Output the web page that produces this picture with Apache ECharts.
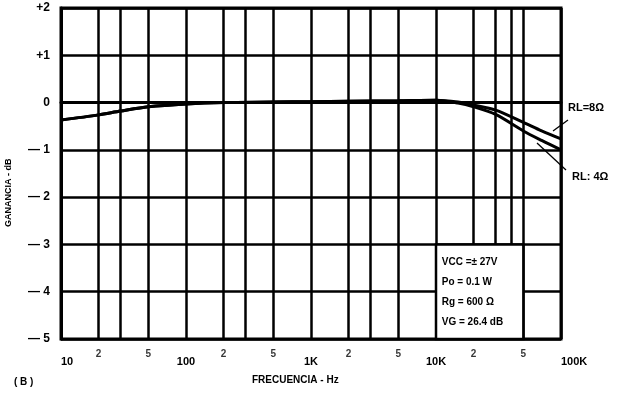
<!DOCTYPE html>
<html><head><meta charset="utf-8">
<script src="https://cdn.jsdelivr.net/npm/echarts@6/dist/echarts.min.js"></script>
<style>html,body{margin:0;padding:0;background:#fff}#c{width:625px;height:396px}</style>
</head><body><div id="c"></div>
<script>
// ---- data ----
const freqs   = [10, 20, 30, 50, 100, 200, 500, 1000, 2000, 5000, 10000, 15000, 20000, 30000, 50000, 70000, 100000];
const gainRL8 = [-0.37, -0.26, -0.18, -0.09, -0.03, 0.0, 0.01, 0.02, 0.03, 0.04, 0.05, 0.01, -0.05, -0.16, -0.42, -0.60, -0.77];
const gainRL4 = [-0.37, -0.26, -0.18, -0.09, -0.03, 0.0, 0.01, 0.02, 0.03, 0.04, 0.05, -0.01, -0.09, -0.25, -0.60, -0.80, -1.00];
const yTicks = [-5, -4, -3, -2, -1, 0, 1, 2];
const yTickLabels = ['— 5', '— 4', '— 3', '— 2', '— 1', '0', '+1', '+2'];
const decadeTicks = [10, 100, 1000, 10000, 100000];
const decadeLabels = ['10', '100', '1K', '10K', '100K'];
const minorGridFreqs = [20, 30, 50, 200, 300, 500, 2000, 3000, 5000, 20000, 30000, 40000, 50000];
const minorLabelFreqs = [20, 50, 200, 500, 2000, 5000, 20000, 50000];
const minorLabelText = ['2', '5', '2', '5', '2', '5', '2', '5'];
const boxFreqRange = [10000, 50000];
const boxGainRange = [-3, -5];
const boxLines = ['VCC =± 27V', 'Po = 0.1 W', 'Rg = 600 Ω', 'VG = 26.4 dB'];
const seriesNames = ['RL=8Ω', 'RL: 4Ω'];

const FONT = 'Liberation Sans, Arial, sans-serif';
const chart = echarts.init(document.getElementById('c'), null, {renderer: 'canvas'});

function labelFor(v, ticks, labels) {
  for (let i = 0; i < ticks.length; i++) {
    if (Math.abs(v - ticks[i]) < 1e-6 * Math.max(1, Math.abs(ticks[i]))) return labels[i];
  }
  return '';
}

chart.setOption({
  animation: false,
  backgroundColor: '#fff',
  grid: {left: 61, right: 64, top: 8, bottom: 57, show: true, borderColor: '#000', borderWidth: 3, backgroundColor: 'transparent'},
  xAxis: {
    type: 'log', logBase: 10, min: 10, max: 100000,
    axisLine: {show: true, lineStyle: {color: '#000', width: 3}},
    axisTick: {show: false},
    splitLine: {show: true, lineStyle: {color: '#000', width: 2.5}},
    axisLabel: {
      margin: 17, color: '#000', fontFamily: FONT, fontWeight: 'bold', fontSize: 11,
      alignMinLabel: 'left', alignMaxLabel: 'left',
      formatter: v => labelFor(Math.round(v), decadeTicks, decadeLabels)
    }
  },
  yAxis: {
    type: 'value', min: -5, max: 2, interval: 1,
    axisLine: {show: true, lineStyle: {color: '#000', width: 3}},
    axisTick: {show: false},
    splitLine: {show: true, lineStyle: {color: '#000', width: 2.5}},
    axisLabel: {
      margin: 11, color: '#000', fontFamily: FONT, fontWeight: 'bold', fontSize: 12,
      formatter: v => labelFor(v, yTicks, yTickLabels)
    }
  },
  series: [
    {
      name: 'grid', type: 'line', data: [], z: 1, silent: true,
      markLine: {
        z: 1, silent: true, symbol: ['none', 'none'], label: {show: false},
        lineStyle: {color: '#000', width: 2.5, type: 'solid'},
        data: minorGridFreqs.map(f => ({xAxis: f}))
      }
    },
    {
      name: seriesNames[0], type: 'line', z: 3, smooth: 0.3, showSymbol: false,
      lineStyle: {color: '#000', width: 3},
      data: freqs.map((f, i) => [f, gainRL8[i]])
    },
    {
      name: seriesNames[1], type: 'line', z: 3, smooth: 0.3, showSymbol: false,
      lineStyle: {color: '#000', width: 3},
      data: freqs.map((f, i) => [f, gainRL4[i]])
    },
    {
      name: 'box', type: 'line', data: [], z: 10, silent: true,
      markArea: {
        z: 10, silent: true,
        itemStyle: {color: '#fff', borderColor: '#000', borderWidth: 2.5},
        label: {
          show: true, position: 'insideTopLeft', distance: 0,
          padding: [9, 0, 0, 7],
          color: '#000', fontFamily: FONT, fontWeight: 'bold', fontSize: 10, lineHeight: 20,
          formatter: boxLines.join('\n')
        },
        data: [[{xAxis: boxFreqRange[0], yAxis: boxGainRange[0]}, {xAxis: boxFreqRange[1], yAxis: boxGainRange[1]}]]
      }
    },
    {
      name: 'minorLabels', type: 'scatter', z: 4, silent: true,
      symbolSize: 2, itemStyle: {color: 'rgba(0,0,0,0)'},
      label: {
        show: true, position: 'bottom', distance: 9, color: '#000',
        fontFamily: FONT, fontWeight: 'bold', fontSize: 10,
        formatter: p => minorLabelText[p.dataIndex]
      },
      data: minorLabelFreqs.map(f => [f, -5])
    }
  ],
  graphic: [
    {type: 'text', x: 4, y: 227, rotation: Math.PI / 2, style: {text: 'GANANCIA - dB', fill: '#000', font: 'bold 9px ' + FONT}},
    {type: 'text', left: 252, top: 375, style: {text: 'FRECUENCIA - Hz', fill: '#000', font: 'bold 10px ' + FONT}},
    {type: 'text', left: 14, top: 377, style: {text: '( B )', fill: '#000', font: 'bold 10px ' + FONT}},
    {type: 'text', left: 568, top: 102, style: {text: seriesNames[0], fill: '#000', font: 'bold 11px ' + FONT}},
    {type: 'text', left: 572, top: 171, style: {text: seriesNames[1], fill: '#000', font: 'bold 11px ' + FONT}},
    {type: 'line', shape: {x1: 553, y1: 131, x2: 568, y2: 120}, style: {stroke: '#000', lineWidth: 1.3}},
    {type: 'line', shape: {x1: 537, y1: 143, x2: 566, y2: 170}, style: {stroke: '#000', lineWidth: 1.3}}
  ]
});
</script></body></html>
